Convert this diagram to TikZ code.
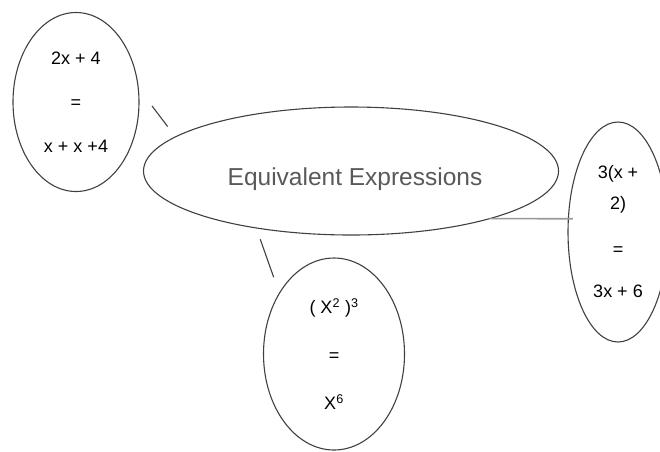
\documentclass[tikz,border=0pt]{standalone}
\usepackage{fontspec}
\setmainfont{Liberation Sans}
\usetikzlibrary{shapes.geometric}

\begin{document}
\begin{tikzpicture}[x=1pt,y=-1pt,
  bubble/.style={ellipse,draw=black!75,line width=1.1pt,inner sep=0pt,
    outer sep=0pt,align=center,font=\fontsize{18}{44}\selectfont},
  link/.style={black!75,line width=1.1pt},
  every node/.style={text=black}]
  % pixel grid of the drawing, y pointing down
  \clip (0,0) rectangle (660,451);

  \node[bubble,minimum width=415pt,minimum height=128pt] (eq) at (351,171) {};
  \node[text=black!65,font=\fontsize{24.5}{28}\selectfont] (eqtext) at (355,179)
    {Equivalent Expressions};

  \node[bubble,minimum width=126pt,minimum height=179pt] (lin) at (76,102)
    {2x + 4\\=\\x + x +4};
  \node[bubble,minimum width=141pt,minimum height=192pt,
    font=\fontsize{18}{48}\selectfont] (pow) at (334,354)
    {( X\textsuperscript{2} )\textsuperscript{3}\\=\\X\textsuperscript{6}};
  \node[bubble,minimum width=100pt,minimum height=220pt,
    font=\fontsize{18}{31}\selectfont] (dist) at (618,232)
    {3(x +\\2)\\[15pt]=\\[11pt]3x + 6};

  % short strokes between the bubbles
  \draw[link,shorten <=23pt,shorten >=13pt] (lin.13) -- (eq.169.7);
  \draw[link,shorten <=12pt,shorten >=17pt] (eq.211.7) -- (pow.132.1);
  \draw[black!40,line width=1.6pt,shorten >=-4.5pt] (eq.-19.3) -- (dist.165.3);
\end{tikzpicture}
\end{document}
